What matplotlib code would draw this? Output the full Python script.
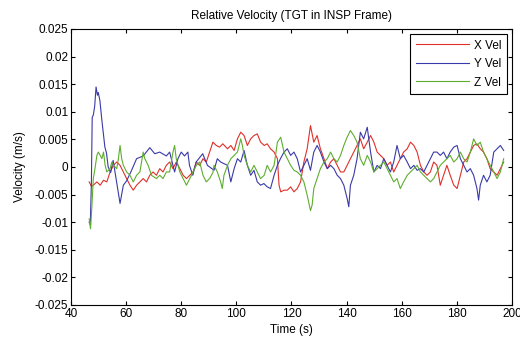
import matplotlib
matplotlib.use('Agg')
import matplotlib.pyplot as plt
import numpy as np

plt.rcParams['font.family'] = ['Liberation Sans', 'DejaVu Sans']

# X velocity (red)
t_x = [46.6, 47.4, 48.1, 49.4, 50.6, 51.8, 53.0, 54.2, 55.4, 56.6, 57.8, 59.0, 60.2, 61.4, 62.6,
       63.8, 65.0, 66.2, 67.4, 68.6, 69.8, 71.0, 72.2, 73.4, 74.6, 75.8, 77.0, 78.2, 79.5, 80.7,
       81.9, 83.1, 84.3, 85.5, 86.7, 87.9, 89.1, 90.3, 91.5, 92.7, 93.9, 95.1, 96.8, 98.0, 99.2,
       100.4, 101.6, 102.8, 104.0, 105.2, 106.4, 107.6, 108.8, 110.1, 111.2, 112.4, 113.7, 114.9,
       115.5, 116.1, 117.3, 118.5, 119.7, 120.9, 122.1, 123.3, 124.5, 125.7, 126.9, 128.1, 129.3,
       130.5, 131.8, 133.0, 134.2, 135.4, 136.6, 137.8, 139.0, 140.2, 141.4, 142.6, 143.8, 145.0,
       146.2, 147.5, 148.7, 149.9, 151.1, 152.3, 153.5, 154.7, 155.9, 157.1, 158.3, 159.5, 160.7,
       162.0, 163.2, 164.4, 165.6, 166.8, 168.0, 169.2, 170.4, 171.6, 172.8, 174.0, 175.2, 176.4,
       177.6, 178.9, 180.1, 181.3, 182.5, 183.7, 184.9, 186.1, 187.3, 188.5, 189.7, 190.9, 192.1,
       193.4, 194.6, 195.8, 197.0]
v_x = [-0.0027, -0.0035, -0.0033, -0.0027, -0.0033, -0.0024, -0.0027, -0.0009, 0.0003, 0.0009,
       0.0003, -0.0009, -0.0021, -0.0033, -0.0042, -0.0033, -0.0027, -0.0021, -0.0027, -0.0015,
       -0.0009, -0.0015, -0.0003, -0.0009, 0.0003, 0.0009, -0.0003, 0.0009, -0.0003, -0.0015,
       -0.0021, -0.0015, -0.0009, 0.0009, 0.0003, 0.0015, 0.0009, 0.0027, 0.0045, 0.0039, 0.0036,
       0.0042, 0.0033, 0.0039, 0.0030, 0.0051, 0.0063, 0.0057, 0.0039, 0.0051, 0.0057, 0.0060,
       0.0045, 0.0039, 0.0042, 0.0033, 0.0027, 0.0015, -0.0033, -0.0045, -0.0042, -0.0042, -0.0036,
       -0.0045, -0.0039, -0.0027, 0.0009, 0.0033, 0.0075, 0.0045, 0.0057, 0.0033, 0.0015, -0.0003,
       0.0009, 0.0015, 0.0003, -0.0009, -0.0009, 0.0003, 0.0015, 0.0027, 0.0039, 0.0051, 0.0033,
       0.0045, 0.0057, 0.0045, 0.0027, 0.0021, 0.0015, 0.0003, 0.0009, -0.0009, 0.0003, 0.0015,
       0.0027, 0.0033, 0.0045, 0.0039, 0.0027, 0.0003, -0.0009, -0.0015, -0.0009, 0.0009, 0.0003,
       -0.0033, -0.0015, 0.0003, -0.0015, -0.0033, -0.0039, -0.0015, 0.0009, 0.0015, 0.0027, 0.0039,
       0.0042, 0.0033, 0.0027, 0.0015, -0.0003, -0.0009, -0.0015, -0.0003, 0.0009]

# Y velocity (blue)
t_y = [46.6, 47.0, 47.4, 47.7, 48.1, 48.6, 49.1, 49.6, 49.9, 50.5, 51.2, 52.3, 52.9, 53.5, 54.4,
       55.3, 56.5, 57.8, 59.0, 60.2, 62.0, 63.8, 66.2, 68.6, 70.4, 72.2, 74.6, 75.8, 77.0, 77.6,
       78.8, 80.0, 81.2, 82.4, 83.0, 84.2, 85.4, 87.8, 89.5, 91.9, 93.1, 94.3, 96.8, 98.0, 99.2,
       100.4, 101.6, 102.8, 104.0, 105.2, 106.4, 107.6, 108.8, 110.0, 111.2, 112.4, 113.7, 114.9,
       116.0, 117.3, 118.5, 119.7, 120.9, 122.1, 123.3, 124.5, 125.7, 126.9, 128.1, 129.3, 130.5,
       131.8, 133.0, 134.2, 135.4, 136.6, 137.8, 139.0, 140.2, 140.8, 141.4, 142.6, 143.8, 145.0,
       146.2, 147.5, 148.7, 149.9, 151.1, 152.3, 153.5, 154.7, 155.9, 157.1, 158.3, 159.5, 160.7,
       162.0, 163.2, 164.4, 165.6, 166.8, 168.0, 169.2, 170.4, 171.6, 172.8, 174.0, 175.2, 176.4,
       177.6, 178.9, 180.1, 181.3, 182.5, 183.7, 184.9, 186.1, 187.3, 187.9, 188.5, 189.7, 190.9,
       192.1, 193.4, 194.6, 195.8, 197.0]
v_y = [-0.0100, -0.0105, -0.0030, 0.0090, 0.0094, 0.0110, 0.0145, 0.0130, 0.0135, 0.0120,
       0.0085, 0.0036, 0.0025, 0.0000, -0.0010, 0.0012, -0.0025, -0.0066, -0.0033, -0.0025,
       -0.0006, 0.0015, 0.0020, 0.0035, 0.0024, 0.0027, 0.0020, 0.0027, 0.0003, -0.0009, 0.0015,
       0.0027, 0.0020, 0.0027, 0.0003, -0.0015, 0.0009, 0.0024, 0.0003, -0.0006, 0.0015, 0.0009,
       0.0003, -0.0027, -0.0003, 0.0015, 0.0009, 0.0030, 0.0003, -0.0015, -0.0006, -0.0027,
       -0.0033, -0.0030, -0.0036, -0.0039, -0.0015, 0.0003, 0.0015, 0.0027, 0.0033, 0.0021,
       0.0027, 0.0015, -0.0009, 0.0003, 0.0015, -0.0006, 0.0027, 0.0039, 0.0027, 0.0009, -0.0003,
       0.0003, -0.0003, -0.0015, -0.0021, -0.0033, -0.0057, -0.0072, -0.0033, -0.0015, 0.0015,
       0.0063, 0.0051, 0.0072, 0.0027, -0.0009, 0.0003, -0.0003, 0.0015, 0.0003, -0.0009, 0.0009,
       0.0039, 0.0015, 0.0021, 0.0009, -0.0003, 0.0003, -0.0006, -0.0003, -0.0009, 0.0003, 0.0015,
       0.0027, 0.0027, 0.0021, 0.0027, 0.0015, 0.0027, 0.0036, 0.0039, 0.0015, 0.0003, -0.0009,
       -0.0003, -0.0015, -0.0039, -0.0060, -0.0033, -0.0015, -0.0027, -0.0015, 0.0027, 0.0033,
       0.0039, 0.0030]

# Z velocity (green)
t_z = [46.6, 47.1, 47.6, 48.1, 48.7, 49.4, 49.9, 50.6, 51.2, 51.8, 52.4, 53.0, 54.2, 54.8, 55.4,
       56.6, 57.2, 57.8, 58.4, 59.0, 60.2, 61.4, 62.6, 63.8, 65.0, 65.6, 66.2, 66.8, 68.0, 69.2,
       71.0, 72.2, 73.4, 74.6, 75.8, 77.0, 77.6, 78.2, 79.5, 80.7, 81.9, 83.1, 84.3, 85.5, 86.7,
       87.9, 89.1, 90.3, 91.5, 91.9, 93.1, 94.3, 94.9, 95.5, 96.8, 98.0, 99.2, 100.4, 101.6, 102.2,
       102.8, 104.0, 105.2, 106.4, 107.6, 108.8, 110.1, 111.2, 112.4, 113.7, 114.9, 116.1, 117.3,
       118.5, 119.7, 120.9, 122.1, 123.3, 124.5, 125.7, 126.9, 127.5, 128.1, 129.3, 130.5, 131.8,
       133.0, 134.2, 135.4, 136.6, 137.8, 139.0, 140.2, 141.4, 142.6, 143.8, 145.0, 146.2, 147.5,
       148.7, 149.9, 151.1, 152.3, 153.5, 154.7, 155.9, 157.1, 158.3, 159.5, 160.7, 162.0, 163.2,
       164.4, 165.6, 166.8, 168.0, 169.2, 170.4, 171.6, 172.8, 174.0, 175.2, 176.4, 177.6, 178.9,
       180.1, 181.3, 182.5, 183.7, 184.9, 186.1, 187.3, 188.5, 189.7, 190.9, 192.1, 193.4, 194.6,
       195.8, 197.0]
v_z = [-0.0094, -0.0112, -0.0070, -0.0021, -0.0003, 0.0021, 0.0027, 0.0021, 0.0015, 0.0027,
       0.0003, -0.0009, -0.0003, 0.0009, 0.0003, -0.0003, 0.0015, 0.0039, 0.0015, 0.0003, -0.0009,
       -0.0015, -0.0027, -0.0015, -0.0009, 0.0009, 0.0027, 0.0015, 0.0003, -0.0015, -0.0021,
       -0.0015, -0.0021, -0.0009, -0.0009, 0.0027, 0.0039, 0.0015, -0.0009, -0.0021, -0.0033,
       -0.0021, -0.0009, 0.0003, 0.0009, -0.0015, -0.0027, -0.0021, -0.0010, 0.0003, -0.0009,
       -0.0027, -0.0039, -0.0015, 0.0003, 0.0015, 0.0021, 0.0027, 0.0051, 0.0039, 0.0021, 0.0003,
       -0.0009, 0.0003, -0.0009, -0.0021, -0.0015, 0.0003, -0.0009, 0.0003, 0.0045, 0.0054, 0.0027,
       0.0015, 0.0003, -0.0006, -0.0009, -0.0015, -0.0027, -0.0051, -0.0079, -0.0069, -0.0039,
       -0.0021, -0.0003, 0.0009, 0.0015, 0.0027, 0.0015, 0.0009, 0.0021, 0.0039, 0.0054, 0.0066,
       0.0057, 0.0045, 0.0015, 0.0003, 0.0021, 0.0009, -0.0009, -0.0003, 0.0003, 0.0009, -0.0003,
       -0.0015, -0.0027, -0.0021, -0.0039, -0.0027, -0.0015, -0.0009, -0.0003, 0.0003, -0.0009,
       -0.0015, -0.0021, -0.0027, -0.0021, -0.0009, 0.0003, 0.0009, 0.0015, 0.0021, 0.0009, 0.0015,
       0.0027, 0.0015, 0.0009, 0.0027, 0.0051, 0.0039, 0.0045, 0.0027, 0.0015, 0.0003, -0.0009,
       -0.0021, -0.0009, 0.0015]

labels = ['X Vel', 'Y Vel', 'Z Vel']
colors = ['#e0302a', '#3a3aa8', '#5eae2e']

fig = plt.figure(figsize=(5.2, 3.39), dpi=100)
ax = fig.add_axes([0.1365, 0.1003, 0.848, 0.8142])

ax.plot(t_x, v_x, color=colors[0], lw=0.8, label=labels[0])
ax.plot(t_y, v_y, color=colors[1], lw=0.8, label=labels[1])
ax.plot(t_z, v_z, color=colors[2], lw=0.8, label=labels[2])

ax.set_xlim(40, 200)
ax.set_ylim(-0.025, 0.025)
ax.set_xticks(np.arange(40, 201, 20))
ax.set_yticks(np.arange(-0.025, 0.0251, 0.005))
ax.set_yticklabels(['-0.025', '-0.02', '-0.015', '-0.01', '-0.005', '0',
                    '0.005', '0.01', '0.015', '0.02', '0.025'])
ax.tick_params(direction='in', top=True, right=True, length=3, width=0.8,
               labelsize=8.5, pad=2)
for s in ax.spines.values():
    s.set_linewidth(0.8)

ax.set_title('Relative Velocity (TGT in INSP Frame)', fontsize=8.5, pad=7)
ax.set_xlabel('Time (s)', fontsize=8.5, labelpad=3)
ax.set_ylabel('Velocity (m/s)', fontsize=8.5, labelpad=6)

leg = ax.legend(loc='upper right', fontsize=8.5, fancybox=False, framealpha=1,
                edgecolor='black', handlelength=4.5, borderaxespad=0.4,
                labelspacing=0.55, handletextpad=0.4, borderpad=0.5)
leg.get_frame().set_linewidth(0.8)

plt.savefig('out.png', dpi=100)
